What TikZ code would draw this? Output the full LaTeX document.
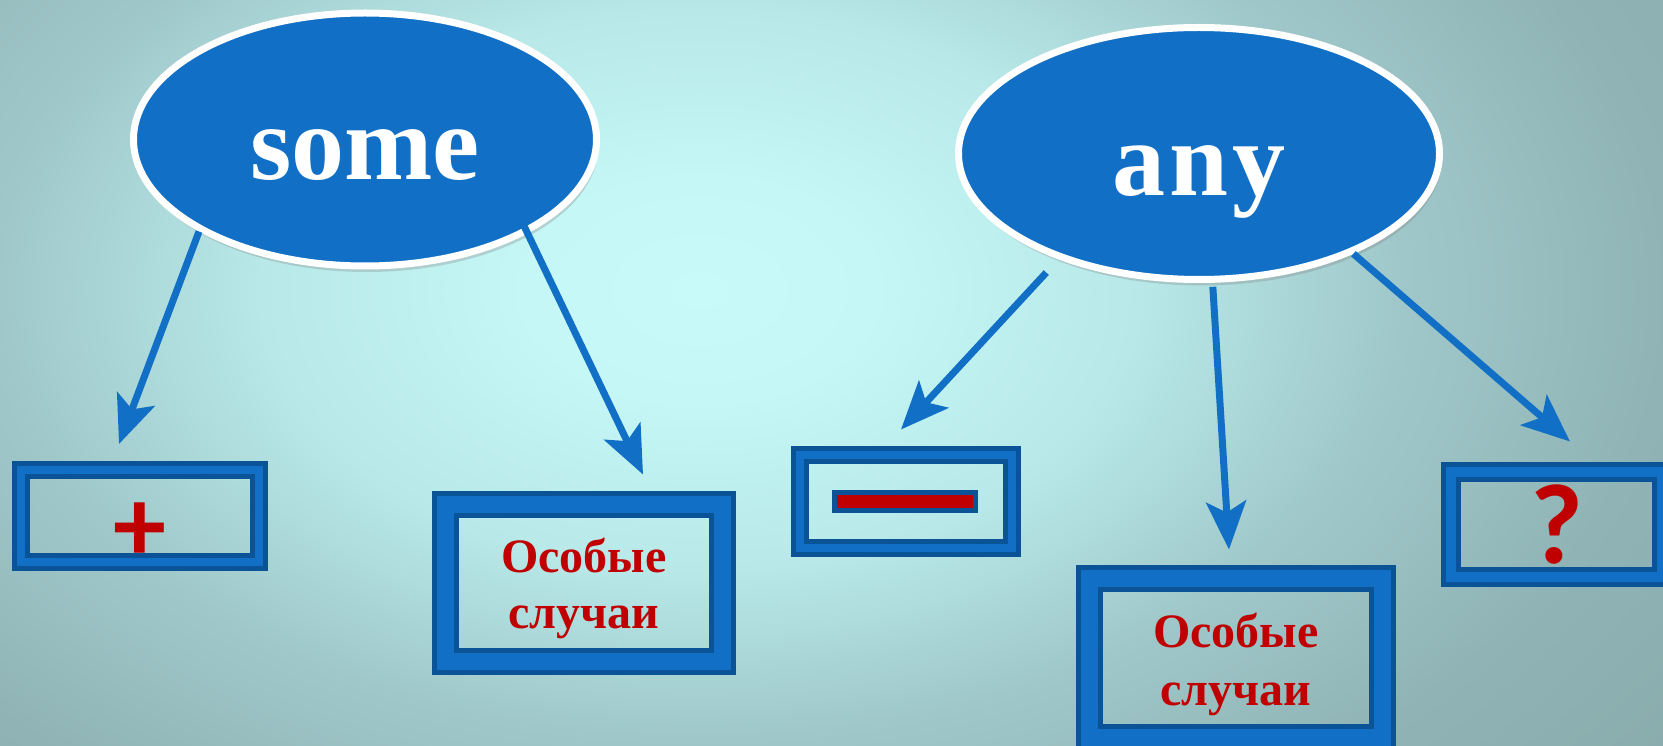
\documentclass[tikz,border=0pt]{standalone}
\usepackage{fontspec}
\setmainfont{Liberation Serif}
\newfontfamily\carl{Carlito}
\usetikzlibrary{shapes.geometric,arrows.meta,calc,shadows}
\definecolor{ovalblue}{HTML}{1170C6}
\definecolor{boxblue}{HTML}{1170C6}
\definecolor{framedark}{HTML}{0A5396}
\definecolor{signred}{HTML}{C00000}
\definecolor{bgA}{HTML}{C8FAFA}
\definecolor{bgB}{HTML}{C5F7F7}
\definecolor{bgC}{HTML}{B8E8E8}
\definecolor{bgD}{HTML}{9FC7C9}
\definecolor{bgE}{HTML}{90B4B6}
\definecolor{bgF}{HTML}{86A8A9}
\pgfdeclareradialshading{bgshade}{\pgfpointorigin}{color(0bp)=(bgA); color(4bp)=(bgB); color(10bp)=(bgC); color(16bp)=(bgD); color(22bp)=(bgE); color(30bp)=(bgF); color(60bp)=(bgF)}
\begin{document}
\begin{tikzpicture}[x=1pt,y=-1pt,
  oval/.style={ellipse, fill=ovalblue, draw=white, line width=7pt, inner sep=0pt,
    text=white, font=\bfseries\fontsize{106}{110}\selectfont,
    drop shadow={opacity=0.3, shadow xshift=2pt, shadow yshift=-6pt}},
  frame/.style={rectangle, draw=framedark, double=boxblue, line width=5pt,
    double distance=8pt, inner sep=0pt, text=signred},
  thickframe/.style={frame, double distance=17pt, align=center,
    font=\bfseries\fontsize{48}{#1}\selectfont, text depth=0pt},
  signfont/.style={font=\carl\bfseries\fontsize{#1}{#1}\selectfont},
  arr/.style={draw=ovalblue, line width=7pt, -{Stealth[length=48pt,width=40pt,inset=11pt]}}
]
\useasboundingbox (0,0) rectangle (1663,746);
\clip (0,0) rectangle (1663,746);
\shade[shading=bgshade] (-400,-410) rectangle (1800,990);

% ovals
\node[oval, minimum width=463pt, minimum height=253pt, text height=81pt, text depth=0pt] (some) at (365,139.5) {some};
\node[oval, minimum width=481pt, minimum height=252pt, text height=85pt, text depth=0pt] (any) at (1199,153.5) {\addfontfeatures{LetterSpace=4}any};

% boxes
\node[frame, minimum width=238pt, minimum height=91pt, signfont=106, text height=92pt, text depth=0pt] (plus) at (140,515.5) {+};
\node[thickframe=56, minimum width=277pt, minimum height=157pt, text height=90pt] (o1) at (584,583) {Особые\\случаи};
\node[frame, minimum width=212pt, minimum height=93pt] (minus) at (906,501.5) {};
\node[rectangle, fill=signred, draw=framedark, line width=5pt, minimum width=141pt, minimum height=18pt, inner sep=0pt] (mbar) at (905,501.5) {};
\node[thickframe=58, minimum width=293pt, minimum height=159pt, text height=94pt] (o2) at (1236,658) {Особые\\случаи};
\node[frame, double distance=10pt, minimum width=211pt, minimum height=105pt, signfont=114] (q) at (1556.5,524.5) {?};

% arrows
\draw[arr] (some.209) -- ($(plus.north)+(-21,-23)$);
\draw[arr, shorten <=-15pt] (some.330) -- ($(o1.north)+(59,-27.5)$);
\draw[arr, shorten <=18pt] (any.217) -- ($(minus.north)+(-5,-23)$);
\draw[arr, shorten <=4pt] (any.276) -- ($(o2.north)+(-7,-26.5)$);
\draw[arr] (any.327) -- ($(q.north)+(13.5,-28)$);
\end{tikzpicture}
\end{document}
